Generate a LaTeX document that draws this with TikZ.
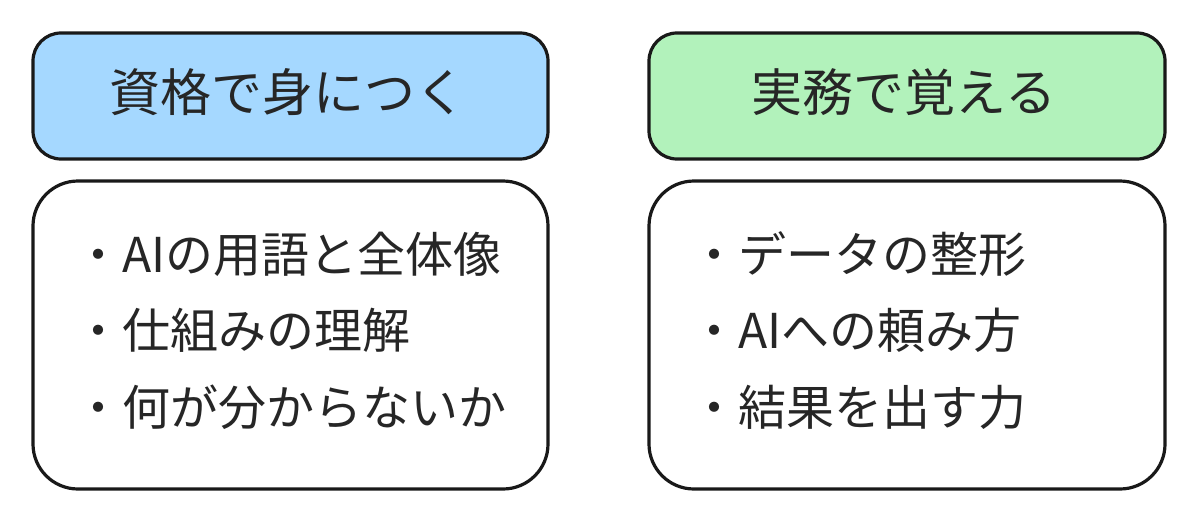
\documentclass[tikz,border=0pt]{standalone}
\usepackage{fontspec}
\newfontfamily\cjk{Noto Sans CJK JP}
\begin{document}
\begin{tikzpicture}[x=1pt,y=-1pt,
  box/.style={draw=black!90,line width=3.2pt,rounded corners=28pt},
  ttl/.style={font=\cjk\fontsize{51}{58}\selectfont,text=black!85,anchor=center},
  itm/.style={font=\cjk\fontsize{48}{54}\selectfont,text=black!85,anchor=west,inner sep=0}]
\useasboundingbox (0,0) rectangle (1196,522);
\draw[box,fill={rgb,255:red,165;green,216;blue,255}] (33,33) rectangle (548,159);
\draw[box,fill={rgb,255:red,178;green,242;blue,187}] (649,33) rectangle (1165,159);
\draw[box,rounded corners=45pt,fill=white] (33,181) rectangle (548,489);
\draw[box,rounded corners=45pt,fill=white] (649,181) rectangle (1165,489);
\node[ttl] (t1) at (288,92) {資格で身につく};
\node[ttl] (t2) at (904,92) {実務で覚える};
\node[itm] (a1) at (74,254) {・AIの用語と全体像};
\node[itm] (a2) at (74,330) {・仕組みの理解};
\node[itm] (a3) at (74,407) {・何が分からないか};
\node[itm] (b1) at (690,254) {・データの整形};
\node[itm] (b2) at (690,330) {・AIへの頼み方};
\node[itm] (b3) at (690,407) {・結果を出す力};
\end{tikzpicture}
\end{document}
